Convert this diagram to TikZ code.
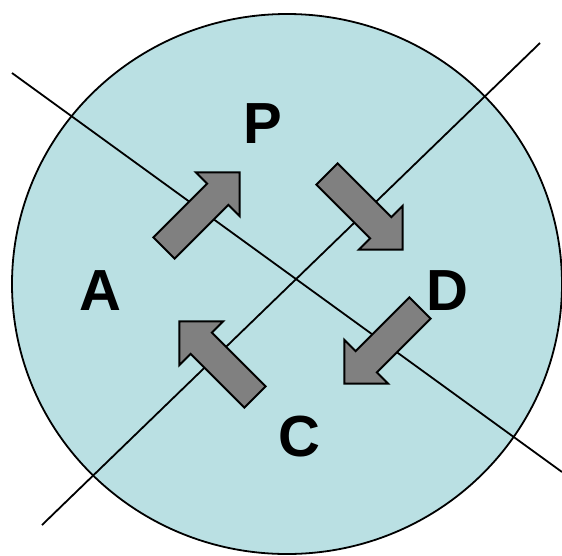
\documentclass[tikz,border=0pt]{standalone}
\usepackage{fontspec}
\setmainfont{Liberation Sans}
\definecolor{cellblue}{RGB}{186,224,227}
\definecolor{arrgray}{RGB}{128,128,128}
\usetikzlibrary{positioning,calc}

\tikzset{
  phaselabel/.style={inner sep=0pt,font=\fontsize{58}{60}\selectfont\bfseries},
  cutline/.style={line width=1.8pt},
  blockarr/.pic={\draw[fill=arrgray,line width=2pt,line join=miter]
      (0,-15) -- (76,-15) -- (76,-31) -- (107,0) -- (76,31) -- (76,15) -- (0,15) -- cycle;}
}

\begin{document}
\begin{tikzpicture}[x=1pt,y=-1pt]
      \useasboundingbox (0,0) rectangle (562,555);
      % cell
      \draw[fill=cellblue,line width=1.8pt] (287,284) ellipse [x radius=275,y radius=270];
      % the two cut lines
      \coordinate (l1a) at (12,73);
      \coordinate (l1b) at (562,472);
      \coordinate (l2a) at (540,43);
      \coordinate (l2b) at (42,525);
      \draw[cutline] (l1a) -- (l1b);
      \draw[cutline] (l2a) -- (l2b);
      % block arrows
      \pic (ap) at (164,248) [rotate=45] {blockarr};
      \pic (pd) at (327,174) [rotate=-45] {blockarr};
      \pic (dc) at (420,308) [rotate=-135] {blockarr};
      \pic (ca) at (255,397) [rotate=135] {blockarr};
      % phase labels
      \node[phaselabel] (p) at (263,124) {P};
      \node[phaselabel] (a) at (100,291) {A};
      \node[phaselabel] (d) at (447,291) {D};
      \node[phaselabel] (c) at (299,437) {C};
\end{tikzpicture}
\end{document}
